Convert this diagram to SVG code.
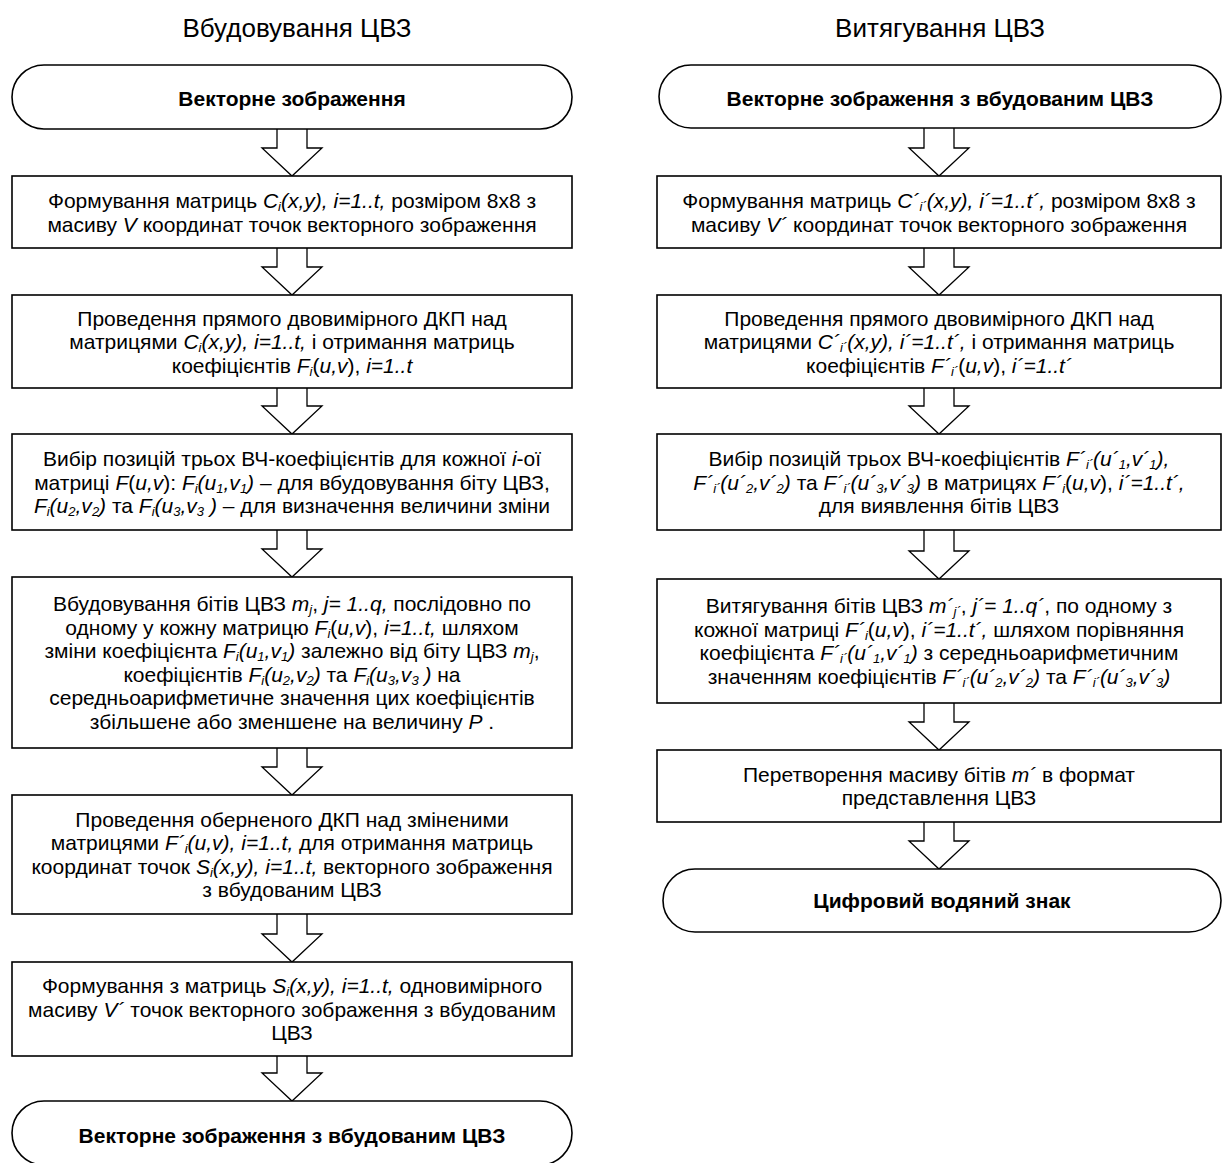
<svg xmlns="http://www.w3.org/2000/svg" width="1223" height="1163" viewBox="0 0 1223 1163">
<style>
text{font-family:"Liberation Sans",Arial,sans-serif;font-size:21px;fill:#000;text-anchor:middle}
.ttl{font-size:26px}
.b{font-weight:bold;font-size:21px}
.i{font-style:italic}
.s{font-size:13px}
.box{fill:#fff;stroke:#000;stroke-width:1.6}
.arr{fill:#fff;stroke:#000;stroke-width:1.3;stroke-linejoin:miter}
</style>
<rect width="1223" height="1163" fill="#fff"/>
<text class="ttl" x="297" y="37">Вбудовування ЦВЗ</text>
<text class="ttl" x="940" y="37">Витягування ЦВЗ</text>

<g id="connectors">
<path class="arr" d="M277,129 V148 H262 L292,176 L322,148 H307 V129"/>
<path class="arr" d="M277,248 V267 H262 L292,295 L322,267 H307 V248"/>
<path class="arr" d="M277,388 V406 H262 L292,434 L322,406 H307 V388"/>
<path class="arr" d="M277,530 V549 H262 L292,577 L322,549 H307 V530"/>
<path class="arr" d="M277,748 V767 H262 L292,795 L322,767 H307 V748"/>
<path class="arr" d="M277,914 V934 H262 L292,962 L322,934 H307 V914"/>
<path class="arr" d="M277,1056 V1073 H262 L292,1101 L322,1073 H307 V1056"/>

<path class="arr" d="M924,128 V148 H909 L939,176 L969,148 H954 V128"/>
<path class="arr" d="M924,248 V267 H909 L939,295 L969,267 H954 V248"/>
<path class="arr" d="M924,388 V406 H909 L939,434 L969,406 H954 V388"/>
<path class="arr" d="M924,530 V551 H909 L939,579 L969,551 H954 V530"/>
<path class="arr" d="M924,703 V722 H909 L939,750 L969,722 H954 V703"/>
<path class="arr" d="M924,822 V841 H909 L939,869 L969,841 H954 V822"/>
</g>

<g id="L-start">
<rect class="box" x="12" y="65" width="560" height="64" rx="32" ry="32"/>
<text class="b" x="292" y="106">Векторне зображення</text>
</g>

<g id="L-form">
<rect class="box" x="12" y="176" width="560" height="72"/>
<text x="292" y="208">Формування матриць <tspan class="i">C</tspan><tspan class="i s" dy="3">i</tspan><tspan class="i" dy="-3">(x,y), i=1..t,</tspan> розміром 8х8 з</text>
<text x="292" y="231.5">масиву <tspan class="i">V</tspan> координат точок векторного зображення</text>
</g>

<g id="L-dct">
<rect class="box" x="12" y="295" width="560" height="93"/>
<text x="292" y="325.5">Проведення прямого двовимірного ДКП над</text>
<text x="292" y="349">матрицями <tspan class="i">C</tspan><tspan class="i s" dy="3">i</tspan><tspan class="i" dy="-3">(x,y), i=1..t,</tspan> і отримання матриць</text>
<text x="292" y="372.5">коефіцієнтів <tspan class="i">F</tspan><tspan class="i s" dy="3">i</tspan><tspan dy="-3">(</tspan><tspan class="i">u,v</tspan>), <tspan class="i">i=1..t</tspan></text>
</g>

<g id="L-select">
<rect class="box" x="12" y="434" width="560" height="96"/>
<text x="292" y="466">Вибір позицій трьох ВЧ-коефіцієнтів для кожної <tspan class="i">i</tspan>-ої</text>
<text x="292" y="489.5">матриці <tspan class="i">F</tspan>(<tspan class="i">u,v</tspan>): <tspan class="i">F</tspan><tspan class="i s" dy="3">i</tspan><tspan class="i" dy="-3">(u</tspan><tspan class="i s" dy="3">1</tspan><tspan class="i" dy="-3">,v</tspan><tspan class="i s" dy="3">1</tspan><tspan class="i" dy="-3">)</tspan> – для вбудовування біту ЦВЗ,</text>
<text x="292" y="513"><tspan class="i">F</tspan><tspan class="i s" dy="3">i</tspan><tspan class="i" dy="-3">(u</tspan><tspan class="i s" dy="3">2</tspan><tspan class="i" dy="-3">,v</tspan><tspan class="i s" dy="3">2</tspan><tspan class="i" dy="-3">)</tspan> та <tspan class="i">F</tspan><tspan class="i s" dy="3">i</tspan><tspan class="i" dy="-3">(u</tspan><tspan class="i s" dy="3">3</tspan><tspan class="i" dy="-3">,v</tspan><tspan class="i s" dy="3">3</tspan><tspan class="i" dy="-3"> )</tspan> – для визначення величини зміни</text>
</g>

<g id="L-embed">
<rect class="box" x="12" y="577" width="560" height="171"/>
<text x="292" y="611.25">Вбудовування бітів ЦВЗ <tspan class="i">m</tspan><tspan class="i s" dy="3">j</tspan><tspan dy="-3">, </tspan><tspan class="i">j= 1..q,</tspan> послідовно  по</text>
<text x="292" y="634.75">одному у кожну матрицю <tspan class="i">F</tspan><tspan class="i s" dy="3">i</tspan><tspan dy="-3">(</tspan><tspan class="i">u,v</tspan>), <tspan class="i">i=1..t,</tspan> шляхом</text>
<text x="292" y="658.25">зміни коефіцієнта <tspan class="i">F</tspan><tspan class="i s" dy="3">i</tspan><tspan class="i" dy="-3">(u</tspan><tspan class="i s" dy="3">1</tspan><tspan class="i" dy="-3">,v</tspan><tspan class="i s" dy="3">1</tspan><tspan class="i" dy="-3">)</tspan> залежно від біту ЦВЗ <tspan class="i">m</tspan><tspan class="i s" dy="3">j</tspan><tspan dy="-3">,</tspan></text>
<text x="292" y="681.75">коефіцієнтів <tspan class="i">F</tspan><tspan class="i s" dy="3">i</tspan><tspan class="i" dy="-3">(u</tspan><tspan class="i s" dy="3">2</tspan><tspan class="i" dy="-3">,v</tspan><tspan class="i s" dy="3">2</tspan><tspan class="i" dy="-3">)</tspan> та <tspan class="i">F</tspan><tspan class="i s" dy="3">i</tspan><tspan class="i" dy="-3">(u</tspan><tspan class="i s" dy="3">3</tspan><tspan class="i" dy="-3">,v</tspan><tspan class="i s" dy="3">3</tspan><tspan class="i" dy="-3"> )</tspan> на</text>
<text x="292" y="705.25">середньоарифметичне значення цих коефіцієнтів</text>
<text x="292" y="728.75">збільшене або зменшене на величину <tspan class="i">P</tspan> .</text>
</g>

<g id="L-idct">
<rect class="box" x="12" y="795" width="560" height="119"/>
<text x="292" y="826.75">Проведення оберненого ДКП над зміненими</text>
<text x="292" y="850.25">матрицями <tspan class="i">F´</tspan><tspan class="i s" dy="3">i</tspan><tspan class="i" dy="-3">(u,v), i=1..t,</tspan> для отримання матриць</text>
<text x="292" y="873.75">координат точок <tspan class="i">S</tspan><tspan class="i s" dy="3">i</tspan><tspan class="i" dy="-3">(x,y), i=1..t,</tspan> векторного зображення</text>
<text x="292" y="897.25">з вбудованим ЦВЗ</text>
</g>

<g id="L-array">
<rect class="box" x="12" y="962" width="560" height="94"/>
<text x="292" y="993">Формування з матриць <tspan class="i">S</tspan><tspan class="i s" dy="3">i</tspan><tspan class="i" dy="-3">(x,y), i=1..t,</tspan> одновимірного</text>
<text x="292" y="1016.5">масиву  <tspan class="i">V´</tspan> точок векторного зображення з вбудованим</text>
<text x="292" y="1040">ЦВЗ</text>
</g>

<g id="L-end">
<rect class="box" x="12" y="1101" width="560" height="64" rx="32" ry="32"/>
<text class="b" x="292" y="1142.5">Векторне зображення з вбудованим ЦВЗ</text>
</g>

<g id="R-start">
<rect class="box" x="659" y="65" width="562" height="63" rx="32" ry="32"/>
<text class="b" x="940" y="106">Векторне зображення з вбудованим ЦВЗ</text>
</g>

<g id="R-form">
<rect class="box" x="657" y="176" width="564" height="72"/>
<text x="939" y="208">Формування матриць <tspan class="i">C´</tspan><tspan class="i s" dy="3">i´</tspan><tspan class="i" dy="-3">(x,y), i´=1..t´,</tspan> розміром 8х8 з</text>
<text x="939" y="231.5">масиву <tspan class="i">V´</tspan> координат точок векторного зображення</text>
</g>

<g id="R-dct">
<rect class="box" x="657" y="295" width="564" height="93"/>
<text x="939" y="325.5">Проведення прямого двовимірного ДКП над</text>
<text x="939" y="349">матрицями <tspan class="i">C´</tspan><tspan class="i s" dy="3">i´</tspan><tspan class="i" dy="-3">(x,y), i´=1..t´,</tspan> і отримання матриць</text>
<text x="939" y="372.5">коефіцієнтів <tspan class="i">F´</tspan><tspan class="i s" dy="3">i´</tspan><tspan dy="-3">(</tspan><tspan class="i">u,v</tspan>), <tspan class="i">i´=1..t´</tspan></text>
</g>

<g id="R-select">
<rect class="box" x="657" y="434" width="564" height="96"/>
<text x="939" y="466">Вибір позицій трьох ВЧ-коефіцієнтів <tspan class="i">F´</tspan><tspan class="i s" dy="3">i´</tspan><tspan class="i" dy="-3">(u´</tspan><tspan class="i s" dy="3">1</tspan><tspan class="i" dy="-3">,v´</tspan><tspan class="i s" dy="3">1</tspan><tspan class="i" dy="-3">),</tspan></text>
<text x="939" y="489.5"><tspan class="i">F´</tspan><tspan class="i s" dy="3">i´</tspan><tspan class="i" dy="-3">(u´</tspan><tspan class="i s" dy="3">2</tspan><tspan class="i" dy="-3">,v´</tspan><tspan class="i s" dy="3">2</tspan><tspan class="i" dy="-3">)</tspan> та <tspan class="i">F´</tspan><tspan class="i s" dy="3">i´</tspan><tspan class="i" dy="-3">(u´</tspan><tspan class="i s" dy="3">3</tspan><tspan class="i" dy="-3">,v´</tspan><tspan class="i s" dy="3">3</tspan><tspan class="i" dy="-3">)</tspan> в матрицях <tspan class="i">F´</tspan><tspan class="i s" dy="3">i</tspan><tspan dy="-3">(</tspan><tspan class="i">u,v</tspan>), <tspan class="i">i´=1..t´,</tspan></text>
<text x="939" y="513">для виявлення бітів ЦВЗ</text>
</g>

<g id="R-extract">
<rect class="box" x="657" y="579" width="564" height="124"/>
<text x="939" y="613.25">Витягування бітів ЦВЗ <tspan class="i">m´</tspan><tspan class="i s" dy="3">j´</tspan><tspan dy="-3">, </tspan><tspan class="i">j´= 1..q´</tspan>, по одному з</text>
<text x="939" y="636.75">кожної матриці <tspan class="i">F´</tspan><tspan class="i s" dy="3">i</tspan><tspan dy="-3">(</tspan><tspan class="i">u,v</tspan>), <tspan class="i">i´=1..t´,</tspan> шляхом порівняння</text>
<text x="939" y="660.25">коефіцієнта <tspan class="i">F´</tspan><tspan class="i s" dy="3">i´</tspan><tspan class="i" dy="-3">(u´</tspan><tspan class="i s" dy="3">1</tspan><tspan class="i" dy="-3">,v´</tspan><tspan class="i s" dy="3">1</tspan><tspan class="i" dy="-3">)</tspan> з середньоарифметичним</text>
<text x="939" y="683.75">значенням коефіцієнтів <tspan class="i">F´</tspan><tspan class="i s" dy="3">i´</tspan><tspan class="i" dy="-3">(u´</tspan><tspan class="i s" dy="3">2</tspan><tspan class="i" dy="-3">,v´</tspan><tspan class="i s" dy="3">2</tspan><tspan class="i" dy="-3">)</tspan> та <tspan class="i">F´</tspan><tspan class="i s" dy="3">i´</tspan><tspan class="i" dy="-3">(u´</tspan><tspan class="i s" dy="3">3</tspan><tspan class="i" dy="-3">,v´</tspan><tspan class="i s" dy="3">3</tspan><tspan class="i" dy="-3">)</tspan></text>
</g>

<g id="R-convert">
<rect class="box" x="657" y="750" width="564" height="72"/>
<text x="939" y="781.75">Перетворення масиву бітів <tspan class="i">m´</tspan> в формат</text>
<text x="939" y="805.25">представлення ЦВЗ</text>
</g>

<g id="R-end">
<rect class="box" x="663" y="869" width="558" height="63" rx="32" ry="32"/>
<text class="b" x="942" y="908">Цифровий водяний знак</text>
</g>
</svg>
